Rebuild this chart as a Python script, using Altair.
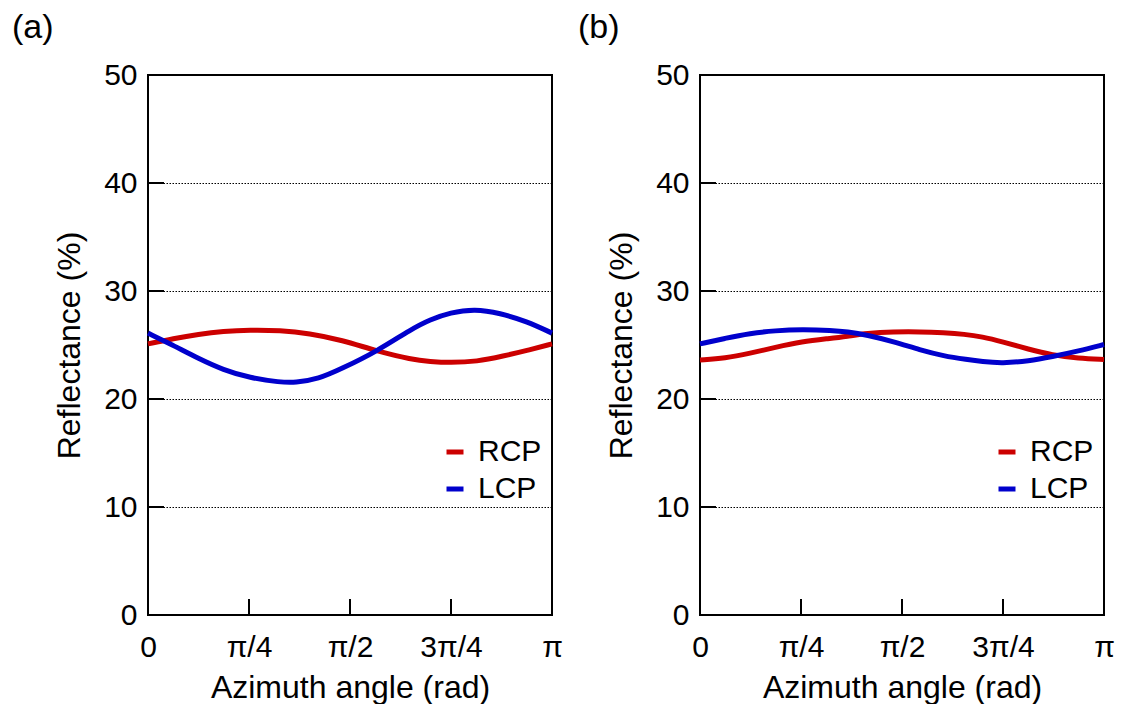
import altair as alt
import pandas as pd
import numpy as np

FONT = "Liberation Sans"

series_names = ["RCP", "LCP"]
series_colors = ["#cc0000", "#0000cc"]
tick_labels = ["0", "π/4", "π/2", "3π/4", "π"]
y_tick_values = [0, 10, 20, 30, 40, 50]
panel_labels = ["(a)", "(b)"]

# angles in units of pi, reflectance in %
a_rcp_t = [0, 0.063, 0.125, 0.186, 0.252, 0.327, 0.399, 0.48, 0.566, 0.653, 0.698, 0.748, 0.814, 0.88, 0.937, 1.0]
a_rcp_v = [25.1, 25.6, 26.0, 26.27, 26.39, 26.35, 26.08, 25.46, 24.44, 23.65, 23.46, 23.36, 23.46, 23.98, 24.48, 25.1]
a_lcp_t = [0, 0.063, 0.125, 0.186, 0.252, 0.327, 0.364, 0.422, 0.479, 0.566, 0.653, 0.698, 0.748, 0.809, 0.871, 0.937, 1.0]
a_lcp_v = [26.1, 24.95, 23.75, 22.7, 21.95, 21.55, 21.5, 21.85, 22.8, 24.4, 26.5, 27.35, 28.0, 28.35, 27.95, 27.2, 26.1]

b_rcp_t = [0, 0.062, 0.124, 0.186, 0.252, 0.32, 0.364, 0.413, 0.479, 0.545, 0.603, 0.655, 0.698, 0.748, 0.814, 0.871, 0.937, 1.0]
b_rcp_v = [23.62, 23.77, 24.23, 24.78, 25.31, 25.6, 25.8, 26.08, 26.23, 26.23, 26.14, 26.0, 25.77, 25.31, 24.6, 24.07, 23.77, 23.65]
b_lcp_t = [0, 0.062, 0.124, 0.186, 0.252, 0.327, 0.364, 0.413, 0.479, 0.545, 0.603, 0.661, 0.698, 0.748, 0.814, 0.871, 0.937, 1.0]
b_lcp_v = [25.1, 25.62, 26.08, 26.33, 26.45, 26.35, 26.23, 25.93, 25.31, 24.54, 23.98, 23.65, 23.46, 23.3, 23.52, 23.92, 24.44, 25.05]

W, H = 404, 540

label_array = "[" + ",".join("'" + s + "'" for s in tick_labels) + "]"
x_values = [k * np.pi / (len(tick_labels) - 1) for k in range(len(tick_labels))]

x_scale = alt.Scale(domain=[0, np.pi], nice=False, zero=False)
y_scale = alt.Scale(domain=[0, 50], nice=False, zero=False)
color_scale = alt.Scale(domain=series_names, range=series_colors)

x_axis = alt.Axis(
    values=x_values, labelExpr=label_array + "[round(datum.value / PI * 4)]",
    title="Azimuth angle (rad)", grid=False, ticks=False, tickSize=0, domain=False,
    labelFlush=False, labelOverlap=False, labelPadding=17, titlePadding=10,
    labelFontSize=30, titleFontSize=32, labelFont=FONT, titleFont=FONT,
    labelColor="black", titleColor="black", titleFontWeight="normal",
)
y_axis = alt.Axis(
    values=y_tick_values, grid=True, gridDash=[1.5, 1.5], gridColor="black",
    gridWidth=1, gridOpacity=1, ticks=False, tickSize=0, domain=False,
    labelFlush=False, labelOverlap=False, labelPadding=11,
    labelFontSize=30, labelFont=FONT, labelColor="black",
    title="Reflectance (%)", titleFontSize=32, titleFont=FONT, titleColor="black",
    titleFontWeight="normal", titleX=-69, titleY=H / 2, titleAngle=-90,
    titleBaseline="alphabetic", titleAlign="center",
)
legend = alt.Legend(
    orient="none", legendX=292, legendY=362, title=None, symbolType="stroke",
    symbolStrokeWidth=5, symbolSize=289, labelFontSize=30, labelFont=FONT,
    labelColor="black", labelOffset=8, rowPadding=7, padding=0,
)


def series_df(name, t, v):
    return pd.DataFrame({"theta": np.array(t) * np.pi, "R": v, "series": name})


def panel(label, label_dx, rcp_t, rcp_v, lcp_t, lcp_v):
    X = alt.X("theta:Q", scale=x_scale, axis=x_axis)
    Y = alt.Y("R:Q", scale=y_scale, axis=y_axis)
    C = alt.Color("series:N", scale=color_scale, legend=legend)
    rcp = alt.Chart(series_df("RCP", rcp_t, rcp_v)).mark_line(
        strokeWidth=5, interpolate="basis"
    ).encode(x=X, y=Y, color=C)
    lcp = alt.Chart(series_df("LCP", lcp_t, lcp_v)).mark_line(
        strokeWidth=5, interpolate="basis"
    ).encode(x=X, y=Y, color=C)
    yt = alt.Chart(pd.DataFrame({"R": y_tick_values[1:-1]})).mark_rule(
        color="black", strokeWidth=2
    ).encode(y=Y, x=alt.value(0), x2=alt.value(16))
    xt = alt.Chart(pd.DataFrame({"theta": x_values[1:-1]})).mark_rule(
        color="black", strokeWidth=2
    ).encode(x=X, y=alt.value(H), y2=alt.value(H - 16))
    txt = alt.Chart(pd.DataFrame({"t": [label]})).mark_text(
        align="left", baseline="alphabetic", fontSize=34, font=FONT, color="black"
    ).encode(text="t:N", x=alt.value(label_dx), y=alt.value(-37))
    return alt.layer(rcp, lcp, yt, xt, txt).properties(width=W, height=H)


pa = panel(panel_labels[0], -136, a_rcp_t, a_rcp_v, a_lcp_t, a_lcp_v)
pb = panel(panel_labels[1], -122, b_rcp_t, b_rcp_v, b_lcp_t, b_lcp_v)

chart = alt.hconcat(pa, pb, spacing=148, bounds="flush").resolve_scale(
    color="independent"
).resolve_legend(color="independent").properties(
    padding={"left": 11, "top": 10, "right": 0, "bottom": 0},
    background="white",
).configure_view(stroke="black", strokeWidth=2)

chart.save("out.html", embed_options={"renderer": "svg", "actions": False})
